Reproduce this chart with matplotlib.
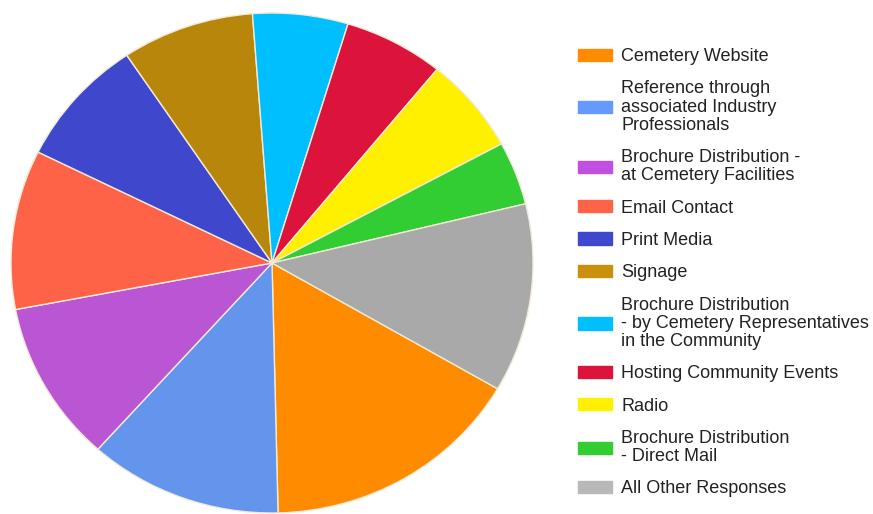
import matplotlib.pyplot as plt
from matplotlib.patches import Patch

labels = [
    "Cemetery Website",
    "Reference through\nassociated Industry\nProfessionals",
    "Brochure Distribution -\nat Cemetery Facilities",
    "Email Contact",
    "Print Media",
    "Signage",
    "Brochure Distribution\n- by Cemetery Representatives\nin the Community",
    "Hosting Community Events",
    "Radio",
    "Brochure Distribution\n- Direct Mail",
    "All Other Responses",
]
shares = [16.25, 12.0, 10.4, 10.3, 8.3, 8.2, 5.9, 6.2, 6.2, 4.1, 12.2]
colors = ["#FF8C00", "#6495ED", "#BA55D3", "#FF6347", "#3F48CC", "#B8860B",
          "#00BFFF", "#DC143C", "#FFF000", "#32CD32", "#A9A9A9"]
legend_colors = ["#FF8C00", "#6699FF", "#C050E0", "#FF6347", "#3F48CC", "#C8900B",
                 "#00BFFF", "#DC143C", "#FFF000", "#32CD32", "#B8B8B8"]

plt.rcParams['font.family'] = ['Liberation Sans', 'DejaVu Sans']

fig = plt.figure(figsize=(8.73, 5.14), dpi=100)
ax = fig.add_axes([11 / 873, 1 / 514, 522 / 873, 500 / 514])
ax.pie(shares, colors=colors, startangle=-30.2, counterclock=False,
       wedgeprops=dict(edgecolor="#f2ead8", linewidth=1))
ax.set_aspect('auto')
ax.set_xlim(-1, 1)
ax.set_ylim(-1, 1)
ax.axis('off')

handles = [Patch(facecolor=c, edgecolor=c) for c in legend_colors]
leg = fig.legend(handles, labels, loc='upper left',
                 bbox_to_anchor=(578 / 873, 1 - 48 / 514),
                 frameon=False, fontsize=13, handlelength=1.9, handleheight=0.67,
                 handletextpad=0.5, labelspacing=0.85, borderpad=0, borderaxespad=0)
for t in leg.get_texts():
    t.set_color('#222222')
    t.set_linespacing(1.09)

fig.savefig("out.png", dpi=100)
